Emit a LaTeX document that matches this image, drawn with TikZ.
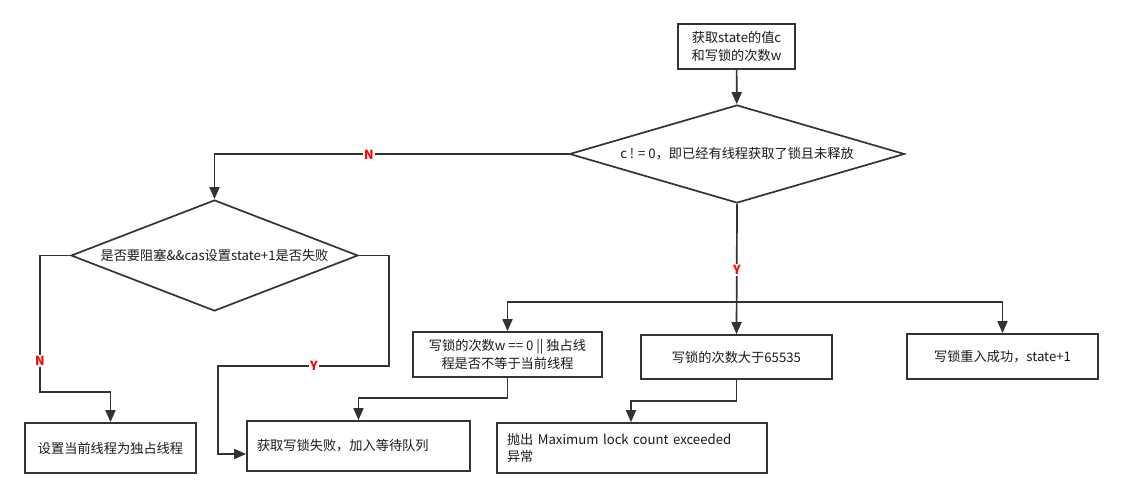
\documentclass[tikz,border=0pt]{standalone}
\usepackage{fontspec}
\setmainfont{Noto Sans CJK SC}
\usetikzlibrary{positioning}
\usetikzlibrary{calc}
\usetikzlibrary{shapes.geometric, arrows.meta}
\definecolor{linegray}{HTML}{333333}

\begin{document}
\begin{tikzpicture} [x=1pt, y=-1pt]
    % styles for boxes, decisions, connectors and labels
    \tikzstyle{box} = [draw=linegray, line width=1.7pt, rectangle, inner sep=0pt,
        font=\fontsize{13.2}{17.5}\selectfont, text=black!90, align=center]
    \tikzstyle{decision} = [draw=linegray, line width=1.7pt, diamond, inner sep=0pt,
        font=\fontsize{13.2}{17.5}\selectfont, text=black!90]
    \tikzstyle{arrow} = [draw=linegray, line width=1.7pt, -{Triangle[length=12pt, width=10pt]}]
    \tikzstyle{yesno} = [fill=white, text=red, inner sep=1pt, font=\bfseries\fontsize{12.5}{14}\selectfont]

    \useasboundingbox (0,0) rectangle (1123,498);

    % boxes and decisions
    \node (getState) [box, minimum width=117pt, minimum height=45pt] at (736.5, 46.5) {获取state的值c\\和写锁的次数w};
    \node (isHeld) [decision, minimum width=335pt, minimum height=98pt, aspect=3.4] at (737, 154) {c ! = 0，即已经有线程获取了锁且未释放};
    \node (casFail) [decision, minimum width=287pt, minimum height=111pt, aspect=2.6] at (214.5, 255.5) {是否要阻塞\&\&cas设置state+1是否失败};
    \node (setOwner) [box, minimum width=171pt, minimum height=50pt] at (110.5, 448) {设置当前线程为独占线程};
    \node (acqFail) [box, minimum width=223pt, minimum height=50pt, text width=203pt, align=left] at (358.5, 446) {获取写锁失败，加入等待队列};
    \node (notOwner) [box, minimum width=189pt, minimum height=45pt] at (507.5, 354.5) {写锁的次数w == 0 || 独占线\\程是否不等于当前线程};
    \node (tooMany) [box, minimum width=191pt, minimum height=44pt] at (736.5, 357) {写锁的次数大于65535};
    \node (reenter) [box, minimum width=191pt, minimum height=45pt] at (1002.5, 356.5) {写锁重入成功，state+1};
    \node (throwErr) [box, minimum width=270pt, minimum height=50pt, text width=250pt, align=left] at (632, 448) {抛出 Maximum lock count exceeded\\异常};

    % bend points
    \coordinate (split) at (737, 302);
    \coordinate (noLeft) at (40, 392);
    \coordinate (yesRight) at (389, 366);
    \coordinate (yesDown) at (218, 454);
    \coordinate (ownerJoin) at (358.5, 398);
    \coordinate (tooJoin) at (631, 401);

    % connectors
    \draw[arrow] (getState) -- (isHeld);
    \draw[arrow] (isHeld.west) -| (casFail.north);
    \draw[arrow] (isHeld.south) -- (tooMany.north);
    \draw[arrow] (split) -| (notOwner.north);
    \draw[arrow] (split) -| (reenter.north);
    \draw[arrow] (casFail.west) -| (noLeft) -| (setOwner.north);
    \draw[arrow] (casFail.east) -| (yesRight) -| (yesDown) -- (yesDown -| acqFail.west);
    \draw[arrow] (notOwner.south) |- (ownerJoin) -- (acqFail.north);
    \draw[arrow] (tooMany.south) |- (tooJoin) -- (tooJoin |- throwErr.north);

    % labels on the connectors
    \node (noHeld) [yesno] at (369, 155) {N};
    \node (yesHeld) [yesno] at (737, 270) {Y};
    \node (noCas) [yesno] at (40, 361) {N};
    \node (yesCas) [yesno] at (314, 366) {Y};
\end{tikzpicture}
\end{document}
